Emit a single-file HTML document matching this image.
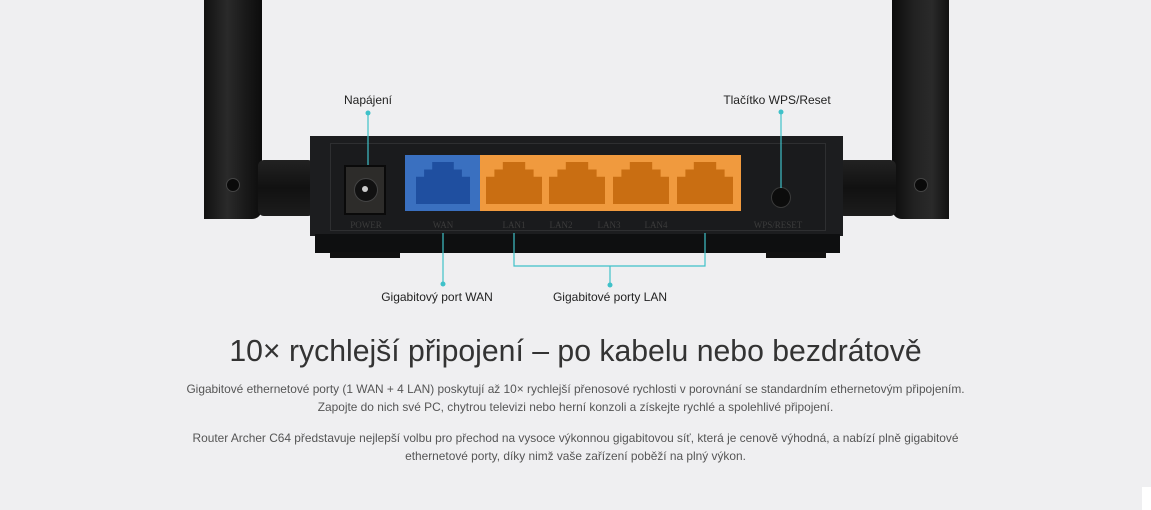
<!DOCTYPE html>
<html><head><meta charset="utf-8"><style>
html,body{margin:0;padding:0}
body{width:1151px;height:510px;background:#efeff1;position:relative;overflow:hidden;font-family:"Liberation Sans",sans-serif}
.a{position:absolute}
.t{position:absolute;font-size:12px;color:#222;white-space:nowrap;transform:translateX(-50%)}
.pl{position:absolute;font-size:9px;color:#3c3c3c;transform:translateX(-50%);font-family:"Liberation Serif",serif}
.p{position:absolute;left:0;width:1151px;text-align:center;font-size:11.9px;color:#555;line-height:18px}
</style></head><body>
<div class="a" style="left:204px;top:0;width:58px;height:219px;background:linear-gradient(90deg,#111,#2a2a2a 40%,#1a1a1a 70%,#0c0c0c);border-radius:0 0 10px 0"></div>
<div class="a" style="left:226px;top:178px;width:12px;height:12px;border-radius:50%;background:#0a0a0a;border:1px solid #444"></div>
<div class="a" style="left:892px;top:0;width:57px;height:219px;background:linear-gradient(90deg,#0c0c0c,#222 40%,#2a2a2a 70%,#111);border-radius:0 0 0 10px"></div>
<div class="a" style="left:914px;top:178px;width:12px;height:12px;border-radius:50%;background:#0a0a0a;border:1px solid #444"></div>
<div class="a" style="left:258px;top:160px;width:56px;height:56px;background:linear-gradient(180deg,#222,#111 50%,#1c1c1c);border-radius:6px"></div>
<div class="a" style="left:838px;top:160px;width:58px;height:56px;background:linear-gradient(180deg,#222,#111 50%,#1c1c1c);border-radius:6px"></div>
<div class="a" style="left:310px;top:136px;width:533px;height:100px;background:#1c1d1f"></div>
<div class="a" style="left:315px;top:234px;width:525px;height:19px;background:#0e0f10"></div>
<div class="a" style="left:330px;top:252px;width:70px;height:6px;background:#111"></div>
<div class="a" style="left:766px;top:252px;width:60px;height:6px;background:#111"></div>
<div class="a" style="left:330px;top:143px;width:494px;height:86px;border:1px solid #2e2f31;background:#1a1b1d"></div>
<div class="a" style="left:344px;top:165px;width:42px;height:50px;background:#2d2c2a;border:2px solid #0a0a0a;box-sizing:border-box"></div>
<div class="a" style="left:354px;top:178px;width:22px;height:22px;border-radius:50%;background:#111;border:1px solid #444"></div>
<div class="a" style="left:362px;top:186px;width:6px;height:6px;border-radius:50%;background:#ccc"></div>
<div class="a" style="left:405px;top:155px;width:75px;height:56px;background:#3a70c0"></div>
<div class="a" style="left:480px;top:155px;width:261px;height:56px;background:#f09a3e"></div>
<div class="a" style="left:416px;top:162px;width:54px;height:42px;background:#1f4fa0;clip-path:polygon(30% 0,70% 0,70% 18%,85% 18%,85% 35%,100% 35%,100% 100%,0 100%,0 35%,15% 35%,15% 18%,30% 18%)"></div>
<div class="a" style="left:486px;top:162px;width:56px;height:42px;background:#c96e12;clip-path:polygon(30% 0,70% 0,70% 18%,85% 18%,85% 35%,100% 35%,100% 100%,0 100%,0 35%,15% 35%,15% 18%,30% 18%)"></div>
<div class="a" style="left:549px;top:162px;width:56px;height:42px;background:#c96e12;clip-path:polygon(30% 0,70% 0,70% 18%,85% 18%,85% 35%,100% 35%,100% 100%,0 100%,0 35%,15% 35%,15% 18%,30% 18%)"></div>
<div class="a" style="left:613px;top:162px;width:56px;height:42px;background:#c96e12;clip-path:polygon(30% 0,70% 0,70% 18%,85% 18%,85% 35%,100% 35%,100% 100%,0 100%,0 35%,15% 35%,15% 18%,30% 18%)"></div>
<div class="a" style="left:677px;top:162px;width:56px;height:42px;background:#c96e12;clip-path:polygon(30% 0,70% 0,70% 18%,85% 18%,85% 35%,100% 35%,100% 100%,0 100%,0 35%,15% 35%,15% 18%,30% 18%)"></div>
<div class="a" style="left:771px;top:187px;width:18px;height:19px;border-radius:50%;background:#0c0c0c;border:1px solid #3a3a3a"></div>
<div class="pl" style="left:366px;top:220px">POWER</div>
<div class="pl" style="left:443px;top:220px">WAN</div>
<div class="pl" style="left:514px;top:220px">LAN1</div>
<div class="pl" style="left:561px;top:220px">LAN2</div>
<div class="pl" style="left:609px;top:220px">LAN3</div>
<div class="pl" style="left:656px;top:220px">LAN4</div>
<div class="pl" style="left:778px;top:220px">WPS/RESET</div>
<svg class="a" style="left:0;top:0" width="1151" height="510">
<g stroke="#3fc1c9" stroke-width="1.2" fill="none">
<path d="M368 113V165"/><path d="M781 112V188"/><path d="M443 233V283"/>
<path d="M514 233V266H705V233"/><path d="M610 266V285"/>
</g>
<g fill="#3fc1c9"><circle cx="368" cy="113" r="2.5"/><circle cx="781" cy="112" r="2.5"/><circle cx="443" cy="284" r="2.5"/><circle cx="610" cy="285" r="2.5"/></g>
</svg>
<div class="t" style="left:368px;top:93px">Napájení</div>
<div class="t" style="left:777px;top:93px">Tlačítko WPS/Reset</div>
<div class="t" style="left:437px;top:290px">Gigabitový port WAN</div>
<div class="t" style="left:610px;top:290px">Gigabitové porty LAN</div>
<div class="a" style="left:0;top:335px;width:1151px;text-align:center;font-size:30.2px;color:#333">10× rychlejší připojení – po kabelu nebo bezdrátově</div>
<div class="p" style="top:380px">Gigabitové ethernetové porty (1 WAN + 4 LAN) poskytují až 10× rychlejší přenosové rychlosti v porovnání se standardním ethernetovým připojením.<br>Zapojte do nich své PC, chytrou televizi nebo herní konzoli a získejte rychlé a spolehlivé připojení.</div>
<div class="p" style="top:429px">Router Archer C64 představuje nejlepší volbu pro přechod na vysoce výkonnou gigabitovou síť, která je cenově výhodná, a nabízí plně gigabitové<br>ethernetové porty, díky nimž vaše zařízení poběží na plný výkon.</div>
<div class="a" style="left:1142px;top:487px;width:9px;height:23px;background:#fff"></div>
</body></html>
